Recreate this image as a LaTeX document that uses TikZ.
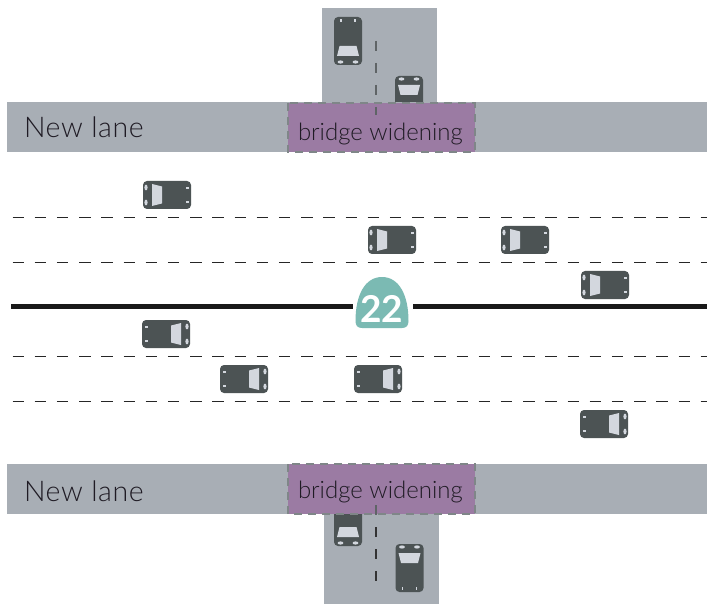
\documentclass[tikz,border=0pt]{standalone}
\usepackage{fontspec}
\setmainfont{Lato Light}[BoldFont=Lato Bold]
\newfontfamily\lanefont{Lato Light}[LetterSpace=2.2]
\definecolor{roadgray}{HTML}{A8AEB5}
\definecolor{purp}{HTML}{9B7BA3}
\definecolor{cardark}{HTML}{4C5354}
\definecolor{glass}{HTML}{D3D7DE}
\definecolor{teal}{HTML}{7BBAB3}
\definecolor{edgegray}{HTML}{7F8688}
\definecolor{ink}{HTML}{1F1B24}
\tikzset{
  road/.style={fill=roadgray,draw=none},
  widen/.style={fill=purp,draw=edgegray,line width=1.4pt,dash pattern=on 8pt off 6pt},
  lanemark/.style={black!85,line width=1.9pt,dash pattern=on 11.5pt off 10.7pt},
  xmark/.style={line width=1.4pt,dash pattern=on 10pt off 12pt},
  median/.style={black!90,line width=5pt},
  lbl/.style={text=ink,anchor=base west,inner sep=0pt,outer sep=0pt},
  car/.pic={
    \fill[cardark,rounded corners=4pt] (-24,-14) rectangle (24,14);
    \fill[glass] (-15,-11) -- (-5,-8.5) -- (-5,8.5) -- (-15,11) -- cycle;
    \fill[glass] (-21,-7.5) ellipse (1.6 and 2.9);
    \fill[glass] (-21,7.5) ellipse (1.6 and 2.9);
    \fill[glass] (18.5,-7.7) rectangle (21.5,-6.3);
    \fill[glass] (18.5,6.3) rectangle (21.5,7.7);
  }
}
\begin{document}
\begin{tikzpicture}[x=1pt,y=-1pt]
\useasboundingbox (0,0) rectangle (707,604);
\fill[white] (0,0) rectangle (707,604);
% crossing roads
\fill[road] (322,8) rectangle (437,102);
\fill[road] (324,514) rectangle (439,604);
% cars on crossing roads
\pic[rotate=90] at (348,41) {car};
\pic[rotate=-90] at (409,100) {car};
\pic[rotate=90] at (348,522) {car};
\pic[rotate=-90] at (409.5,568) {car};
% cross bands
\fill[road] (7,102) rectangle (707,152);
\fill[road] (7,464) rectangle (707,514);
% widenings
\draw[widen] (288,103) rectangle (475,152);
\draw[widen] (288,464) rectangle (475,514);
% crossing centre lines
\coordinate (ta) at (376,41);
\coordinate (tb) at (376,115);
\coordinate (ba) at (376,527);
\coordinate (bb) at (376,582);
\coordinate (bc) at (376,505);
\coordinate (bd) at (376,515);
\draw[xmark,edgegray!75!black] (ta) -- (tb);
\draw[xmark,edgegray!75!black] (bc) -- (bd);
\draw[xmark,black!80] (ba) -- (bb);
% lane marks
\foreach \yy/\nn in {217.5/a,262.5/b,356.5/c,401.5/d}{
  \coordinate (l\nn) at (12.5,\yy);
  \coordinate (r\nn) at (707,\yy);
  \draw[lanemark] (l\nn) -- (r\nn);
}
\coordinate (m1) at (11,306.7);
\coordinate (m2) at (353,306.7);
\coordinate (m3) at (413,306.7);
\coordinate (m4) at (707,306.7);
\draw[median] (m1) -- (m2);
\draw[median] (m3) -- (m4);
% shield
\fill[teal] (362,328) .. controls (357.5,328) and (355.5,325.5) .. (355.5,321)
  .. controls (355.5,295) and (365,277) .. (382,277)
  .. controls (399,277) and (408.5,295) .. (408.5,321)
  .. controls (408.5,325.5) and (406.5,328) .. (402,328) -- cycle;
\node[text=white,font=\fontsize{37}{37}\selectfont\bfseries,inner sep=0pt] (shield) at (381.5,309) {22};
% highway cars
\foreach \cx/\cy in {167/195,392/240,525/240,605/285}{\pic at (\cx,\cy) {car};}
\foreach \cx/\cy in {166/334,244/379,378/379,604/424}{\pic[rotate=180] at (\cx,\cy) {car};}
% labels
\node[lbl,font=\lanefont\fontsize{28.5}{28.5}\selectfont] (n1) at (24,137.8) {New lane};
\node[lbl,font=\lanefont\fontsize{28.5}{28.5}\selectfont] (n2) at (24,501.5) {New lane};
\node[lbl,font=\fontsize{24}{24}\selectfont] (b1) at (298,141) {bridge widening};
\node[lbl,font=\fontsize{24}{24}\selectfont] (b2) at (298,498) {bridge widening};
\end{tikzpicture}
\end{document}
